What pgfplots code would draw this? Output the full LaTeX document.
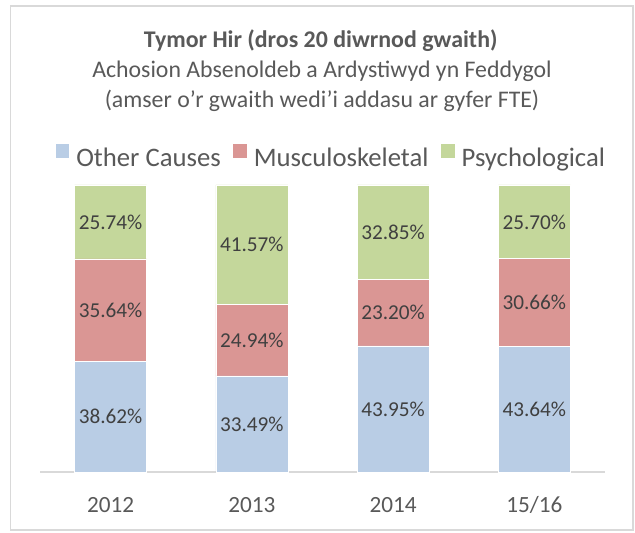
\documentclass[border=0pt]{standalone}
\usepackage{fontspec}
\setmainfont{Carlito}
\usepackage{pgfplots}
\pgfplotsset{compat=1.18}
\definecolor{cblue}{HTML}{B9CDE5}
\definecolor{cred}{HTML}{DA9694}
\definecolor{cgreen}{HTML}{C4D79B}
\definecolor{txt}{HTML}{595959}
\definecolor{lbl}{HTML}{404040}
\definecolor{framec}{HTML}{D9D9D9}
\pgfplotsset{
  sq/.style={legend image code/.code={\fill[##1] (0bp,0bp) rectangle (14.5bp,14.5bp);}},
  geom/.style={at={(0bp,0bp)}, anchor=south west, scale only axis, width=565bp, height=287bp,
    xmin=-0.5, xmax=3.5, ymin=0, ymax=100, clip=false},
}
\begin{document}
\begin{tikzpicture}
\useasboundingbox (-40bp,-61bp) rectangle (595bp,472bp);
\fill[white] (-40bp,-61bp) rectangle (595bp,472bp);
\draw[framec, line width=1.5bp] (-29.5bp,-58bp) rectangle (593bp,466bp);
\begin{axis}[geom,
  ybar stacked, bar width=72bp,
  axis y line=none, axis x line*=bottom,
  x axis line style={framec, line width=1.5bp},
  xtick={0,1,2,3},
  xticklabels={\mbox{2012},\mbox{2013},\mbox{2014},\mbox{15/16}},
  major tick length=0pt, ytick=\empty,
  xticklabel style={font=\fontsize{23.3}{28}\selectfont, text=txt, anchor=base, yshift=-40bp},
  legend columns=3,
  legend style={draw=none, fill=none, inner sep=0pt, outer sep=0pt,
    font=\fontsize{26.8}{31}\selectfont, text=txt,
    at={(axis description cs:0.026,1.102)}, anchor=west,
    nodes={inner sep=0pt},
    /tikz/every odd column/.append style={column sep=6.5bp},
    /tikz/every even column/.append style={column sep=11.5bp}},
]
\addplot[fill=cblue, draw=white, line width=0.6bp, sq] coordinates {(0,38.62) (1,33.49) (2,43.95) (3,43.64)};
\addlegendentry{Other Causes}
\addplot[fill=cred, draw=white, line width=0.6bp, sq] coordinates {(0,35.64) (1,24.94) (2,23.20) (3,30.66)};
\addlegendentry{Musculoskeletal}
\addplot[fill=cgreen, draw=white, line width=0.6bp, sq] coordinates {(0,25.74) (1,41.57) (2,32.85) (3,25.70)};
\addlegendentry{Psychological}
\end{axis}
\begin{axis}[geom, hide axis]
\addplot[draw=none, mark=none, point meta=explicit symbolic,
  nodes near coords={\pgfplotspointmeta\%},
  nodes near coords style={font=\fontsize{21.3}{25}\selectfont, text=lbl, anchor=center}]
  table[meta=v] {
x y v
0 19.31 38.62
0 56.44 35.64
0 87.13 25.74
1 16.745 33.49
1 45.96 24.94
1 79.215 41.57
2 21.975 43.95
2 55.55 23.20
2 83.575 32.85
3 21.82 43.64
3 58.97 30.66
3 87.15 25.70
};
\end{axis}
\node[anchor=base, font=\fontsize{24}{28}\selectfont\bfseries, text=txt] at (280.7bp,424.3bp) {Tymor Hir (dros 20 diwrnod gwaith)};
\node[anchor=base, font=\fontsize{23.9}{28}\selectfont, text=txt] at (282bp,394.7bp) {Achosion Absenoldeb a Ardystiwyd yn Feddygol};
\node[anchor=base, font=\fontsize{23.9}{28}\selectfont, text=txt] at (282bp,364.7bp) {(amser o’r gwaith wedi’i addasu ar gyfer FTE)};
\end{tikzpicture}
\end{document}
